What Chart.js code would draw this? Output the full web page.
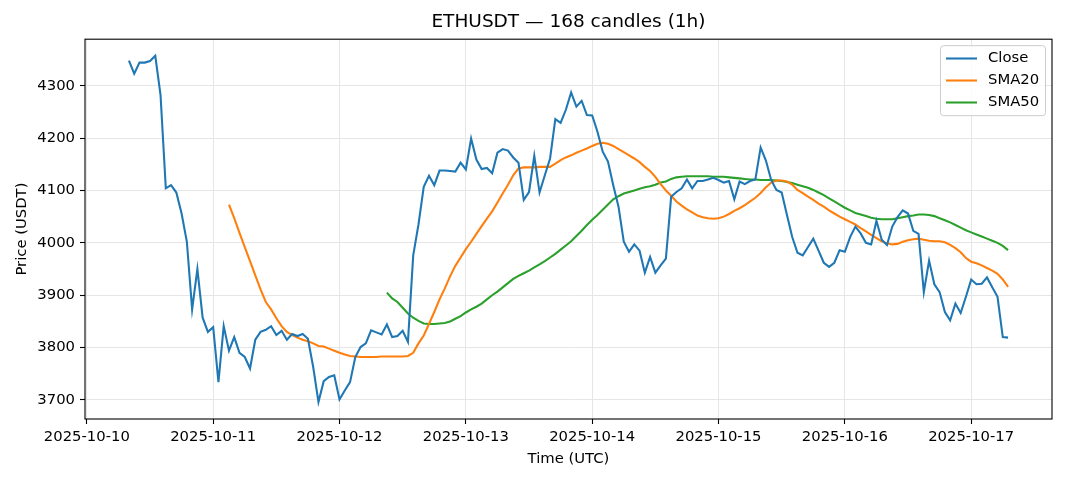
<!DOCTYPE html>
<html>
<head>
<meta charset="utf-8">
<script src="https://cdn.jsdelivr.net/npm/chart.js@4.4.0/dist/chart.umd.min.js"></script>
<style>
  html, body { margin: 0; padding: 0; background: #ffffff; }
  #wrap { width: 1068px; height: 481px; }
</style>
</head>
<body>
<div id="wrap"><canvas id="c" width="1068" height="481"></canvas></div>
<script>
// ---- data ----
const chartTitle = 'ETHUSDT \u2014 168 candles (1h)';
const firstCandleHour = 8;   // hours after 2025-10-10 00:00 UTC
const candleCount = 168;
const candleHours = Array.from({length: candleCount}, (_, i) => firstCandleHour + i);

const closeValues = [
  4348,4323,4344,4344,4347,4357,4282,4104,4110,4096,
  4056,4002,3873,3950,3857,3830,3839,3734,3841,3794,
  3820,3790,3782,3760,3815,3830,3834,3841,3824,3832,
  3815,3826,3822,3826,3817,3763,3696,3736,3744,3747,
  3701,3718,3734,3782,3801,3808,3833,3829,3825,3844,
  3820,3822,3832,3811,3976,4035,4107,4128,4110,4138,
  4138,4137,4136,4153,4140,4199,4159,4141,4143,4133,
  4172,4179,4176,4163,4153,4082,4097,4166,4096,4129,
  4161,4236,4229,4254,4287,4260,4271,4244,4243,4212,
  4174,4155,4110,4069,4002,3983,3997,3985,3943,3973,
  3943,3957,3970,4088,4097,4104,4121,4104,4118,4118,
  4121,4124,4120,4115,4118,4083,4117,4112,4118,4121,
  4182,4157,4120,4101,4096,4053,4011,3981,3976,3992,
  4008,3985,3962,3954,3962,3986,3983,4011,4031,4018,
  4000,3997,4042,4006,3996,4031,4049,4062,4056,4023,
  4017,3906,3966,3921,3906,3868,3852,3884,3866,3897,
  3930,3921,3922,3934,3915,3897,3820,3819
];

const sma20Values = Array(19).fill(null).concat([
  4073,
  4047,4019,3992,3965,3938,3911,3887,3873,3856,3841,
  3830,3824,3819,3815,3812,3808,3803,3802,3798,3794,
  3790,3787,3784,3783,3782,3782,3782,3782,3783,3783,
  3783,3783,3783,3784,3790,3808,3823,3845,3868,3892,
  3913,3936,3956,3972,3988,4002,4017,4032,4046,4060,
  4077,4094,4111,4129,4142,4144,4144,4144,4145,4145,
  4145,4151,4158,4163,4167,4172,4176,4180,4185,4189,
  4191,4189,4185,4179,4173,4167,4161,4154,4145,4137,
  4126,4112,4100,4090,4079,4071,4064,4058,4052,4049,
  4047,4046,4047,4050,4055,4061,4066,4072,4079,4086,
  4095,4106,4115,4119,4119,4117,4111,4101,4095,4088,
  4082,4075,4069,4062,4056,4050,4045,4040,4035,4028,
  4022,4015,4009,4003,3999,3997,3998,4002,4005,4007,
  4008,4006,4004,4003,4003,4001,3996,3990,3982,3971,
  3964,3961,3957,3952,3947,3941,3930,3916
]);

const sma50Values = Array(49).fill(null).concat([
  3905,
  3894,3887,3876,3865,3857,3851,3846,3845,3845,3846,
  3847,3850,3855,3860,3867,3873,3878,3884,3892,3900,
  3907,3915,3923,3931,3937,3942,3947,3953,3959,3965,
  3972,3979,3987,3995,4003,4013,4023,4034,4044,4053,
  4063,4073,4083,4089,4094,4097,4100,4103,4106,4108,
  4111,4115,4117,4122,4125,4126,4127,4127,4127,4127,
  4127,4126,4126,4126,4125,4124,4123,4122,4121,4121,
  4120,4120,4120,4119,4118,4116,4114,4111,4108,4105,
  4101,4096,4091,4085,4079,4073,4067,4062,4057,4054,
  4051,4048,4046,4045,4045,4045,4047,4049,4051,4052,
  4054,4054,4053,4051,4047,4043,4039,4034,4029,4024,
  4020,4016,4012,4008,4004,4000,3994,3986
]);

const xTickLabels = ['2025-10-10','2025-10-11','2025-10-12','2025-10-13','2025-10-14','2025-10-15','2025-10-16','2025-10-17'];
const xTickValues = [0, 24, 48, 72, 96, 120, 144, 168];
const yTickValues = [3700, 3800, 3900, 4000, 4100, 4200, 4300];
const yTickLabels = ['3700','3800','3900','4000','4100','4200','4300'];

// ---- styling ----
const FONT = 'DejaVu Sans';
const FS = 14.8;
const spanH = candleHours[candleHours.length - 1] - candleHours[0];
const xMin = candleHours[0] - 0.05 * spanH;
const xMax = candleHours[candleHours.length - 1] + 0.05 * spanH;

const framePlugin = {
  id: 'framePlugin',
  afterDraw(chart) {
    const {ctx, chartArea: a} = chart;
    ctx.save();
    // spines
    ctx.strokeStyle = '#000';
    ctx.lineWidth = 1.1;
    ctx.strokeRect(a.left, a.top, a.right - a.left, a.bottom - a.top);
    // legend box
    const bx = a.right - 111.5, by = a.top + 6.5, bw = 105, bh = 70, r = 3;
    ctx.beginPath();
    ctx.roundRect(bx, by, bw, bh, r);
    ctx.fillStyle = 'rgba(255,255,255,0.8)';
    ctx.fill();
    ctx.strokeStyle = '#cccccc';
    ctx.lineWidth = 1;
    ctx.stroke();
    ctx.font = FS + 'px "' + FONT + '"';
    ctx.textBaseline = 'middle';
    ctx.textAlign = 'left';
    chart.data.datasets.forEach((ds, i) => {
      const y = by + 12.8 + 22 * i;
      ctx.beginPath();
      ctx.moveTo(bx + 5.5, y);
      ctx.lineTo(bx + 36.5, y);
      ctx.strokeStyle = ds.borderColor;
      ctx.lineWidth = 2.08;
      ctx.stroke();
      ctx.fillStyle = '#000';
      ctx.fillText(ds.label, bx + 47.5, y);
    });
    ctx.restore();
  }
};

new Chart(document.getElementById('c'), {
  type: 'line',
  data: {
    labels: candleHours,
    datasets: [
      { label: 'Close', data: closeValues, borderColor: '#1f77b4', borderWidth: 2.08, pointRadius: 0, tension: 0, fill: false },
      { label: 'SMA20', data: sma20Values, borderColor: '#ff7f0e', borderWidth: 2.08, pointRadius: 0, tension: 0, fill: false, spanGaps: false },
      { label: 'SMA50', data: sma50Values, borderColor: '#2ca02c', borderWidth: 2.08, pointRadius: 0, tension: 0, fill: false, spanGaps: false }
    ]
  },
  options: {
    responsive: false,
    animation: false,
    devicePixelRatio: 1,
    layout: { padding: { left: 0, right: 16, top: 0, bottom: 0 } },
    plugins: {
      legend: { display: false },
      tooltip: { enabled: false },
      title: {
        display: true,
        fullSize: false,
        text: chartTitle,
        color: '#000',
        font: { family: FONT, size: 18.5, weight: 'normal', lineHeight: 1.2 },
        padding: { top: 11, bottom: 6 }
      }
    },
    scales: {
      x: {
        type: 'linear',
        min: xMin,
        max: xMax,
        afterBuildTicks: (s) => { s.ticks = xTickValues.map(v => ({ value: v })); },
        afterFit: (s) => { s.height = 62; },
        ticks: {
          autoSkip: false, maxRotation: 0, minRotation: 0,
          color: '#000', padding: 4,
          font: { family: FONT, size: FS },
          callback: (v) => { const k = xTickValues.indexOf(v); return k >= 0 ? xTickLabels[k] : ''; }
        },
        grid: { color: '#e6e6e6', lineWidth: 1, tickColor: '#000', tickLength: 5, tickWidth: 1.1 },
        border: { display: false },
        title: { display: true, text: 'Time (UTC)', color: '#000', font: { family: FONT, size: FS }, padding: { top: 0, bottom: 13 } }
      },
      y: {
        type: 'linear',
        min: 3663.7,
        max: 4388.7,
        afterBuildTicks: (s) => { s.ticks = yTickValues.map(v => ({ value: v })); },
        afterFit: (s) => { s.width = 85; },
        ticks: {
          color: '#000', padding: 5,
          font: { family: FONT, size: FS },
          callback: (v) => { const k = yTickValues.indexOf(v); return k >= 0 ? yTickLabels[k] : ''; }
        },
        grid: { color: '#e6e6e6', lineWidth: 1, tickColor: '#000', tickLength: 5, tickWidth: 1.1 },
        border: { display: false },
        title: { display: true, text: 'Price (USDT)', color: '#000', font: { family: FONT, size: FS }, padding: { top: 13, bottom: 0 } }
      }
    }
  },
  plugins: [framePlugin]
});
</script>
</body>
</html>
